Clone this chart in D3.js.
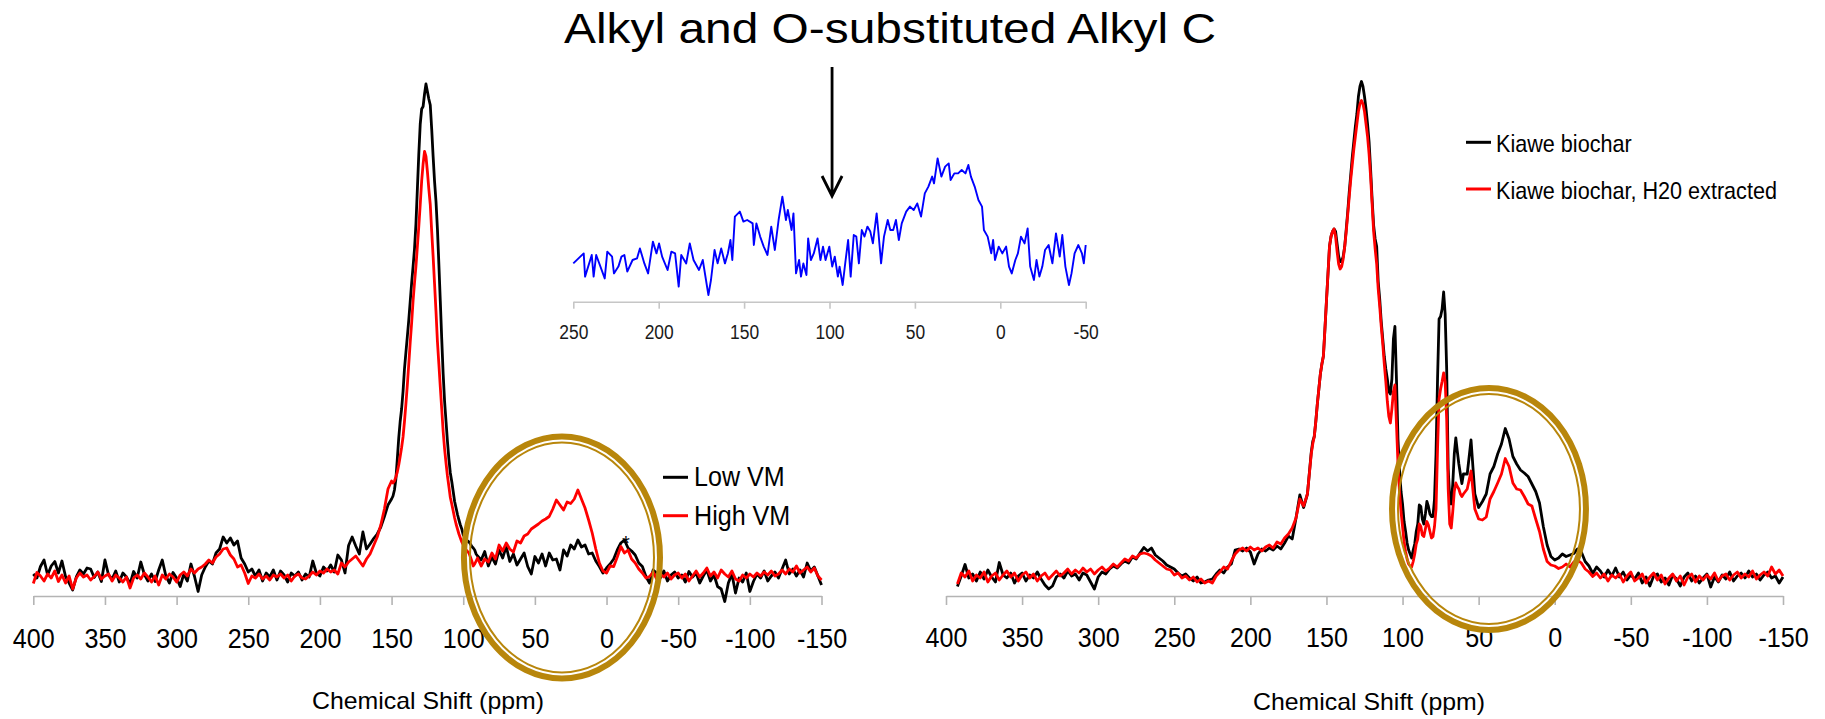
<!DOCTYPE html>
<html>
<head>
<meta charset="utf-8">
<script src="https://cdn.jsdelivr.net/npm/d3@7"></script>
<style>
  html, body { margin: 0; padding: 0; background: #ffffff; }
  svg { display: block; font-family: "Liberation Sans", Arial, Helvetica, sans-serif; }
</style>
</head>
<body>
<svg id="chart" width="1825" height="719"></svg>
<script>
// ---------- 13C NMR spectra: chemical shift grids (ppm) ----------
const leftPpm  = [...d3.range(400, 151, -2.5), ...d3.range(150, 90.5, -1), ...d3.range(90, -150.01, -2.5)];
const rightPpm = [...d3.range(392.5, 161, -2.5), ...d3.range(160, 59.5, -1), ...d3.range(57.5, -150.01, -2.5)];

// Left panel: low vs high volatile matter biochar (relative intensity)
const lowVM = [
  1.0,0.2,2.5,3.8,0.8,2.6,3.5,1.2,3.6,0.5,
  -0.8,-2.2,0.4,1.8,1.0,2.2,2.0,0.3,1.4,-0.5,
  3.8,0.8,0.0,1.6,-0.6,1.2,0.4,-1.0,1.5,0.2,
  3.4,0.9,-0.4,1.0,-0.5,1.8,3.8,0.6,-0.8,1.3,
  0.2,-1.5,1.0,-0.4,3.0,0.5,-2.5,0.8,2.4,3.6,
  3.0,5.2,6.0,8.4,7.2,8.2,6.8,7.6,4.2,3.0,
  1.4,2.0,0.6,1.8,-0.4,1.2,0.4,1.8,-0.2,1.6,
  0.8,-0.6,1.2,0.6,1.4,-0.2,1.0,0.4,3.6,1.2,
  0.6,2.4,1.6,2.8,1.4,4.8,3.8,1.2,6.7,8.4,
  6.6,5.0,9.4,6.0,7.0,8.1,9.0,10.4,12.5,14.8,
  16.0,16.6,17.8,20.0,24.0,28.2,31.5,34.0,37.5,42.0,
  45.3,48.5,51.8,55.5,59.2,62.5,66.0,71.0,78.0,85.0,
  91.0,94.0,94.5,97.0,99.0,97.5,96.0,94.8,90.0,84.5,
  79.5,75.5,70.0,63.0,55.6,48.0,41.0,35.5,31.5,27.5,
  24.0,21.2,19.5,17.5,15.5,14.2,12.9,11.8,10.8,10.0,
  8.8,8.4,7.8,7.6,7.4,7.0,6.5,6.2,5.8,5.0,
  4.6,3.8,5.5,2.6,4.4,3.0,5.8,4.2,6.5,3.5,
  5.0,2.8,4.0,5.2,2.5,1.0,4.5,3.2,5.0,2.6,
  5.2,3.8,4.0,1.8,5.8,4.6,6.8,6.0,7.8,6.4,
  6.8,5.0,5.2,3.6,2.5,1.2,2.2,3.0,4.0,5.8,
  7.2,7.8,6.2,5.6,4.8,3.2,2.5,0.5,-0.8,1.8,
  1.2,0.2,1.6,-0.4,0.8,1.4,0.2,
  0.8,-0.6,1.5,0.4,1.2,-0.8,0.6,1.8,-0.4,0.8,
  -1.5,-2.0,-4.5,-0.8,1.0,-2.8,0.2,-0.6,1.2,-2.5,
  -0.5,1.0,0.2,1.6,-0.4,0.6,1.4,0.2,2.0,3.8,
  1.0,2.0,0.6,1.8,0.4,3.2,1.6,2.4,0.6,-1.2
];
const highVM = [
  -0.9,1.3,0.6,-0.4,1.0,0.2,1.6,-0.5,0.8,-0.8,
  0.6,-2.0,0.2,1.2,0.4,0.8,-0.2,0.5,1.4,0.0,
  0.6,1.0,-0.4,0.8,0.2,-0.6,0.4,-1.8,0.2,0.8,
  0.0,1.2,0.4,-0.6,0.6,-1.2,0.8,0.0,1.0,0.4,
  -0.6,0.8,1.4,0.6,2.0,1.2,2.0,2.4,3.0,3.8,
  3.2,4.4,5.0,6.0,6.2,4.8,4.0,2.4,2.8,1.2,
  -0.9,0.6,0.2,1.0,0.0,0.6,-0.2,0.8,0.4,1.0,
  0.2,0.8,-0.4,0.6,1.0,0.2,0.0,0.6,1.4,0.8,
  1.6,1.2,2.0,1.4,1.8,1.0,3.2,2.4,3.4,4.0,
  4.6,3.6,2.6,4.0,5.0,6.7,8.4,10.8,14.0,18.0,
  19.6,19.2,19.6,20.4,21.4,22.8,24.5,26.3,28.4,31.5,
  35.0,38.8,43.0,47.3,51.2,55.6,59.2,62.5,66.5,70.5,
  74.9,79.6,83.0,85.5,84.5,81.5,78.0,74.9,69.5,64.5,
  59.0,53.5,47.5,43.0,38.4,34.0,29.5,26.0,23.2,20.6,
  18.5,16.3,15.0,13.6,12.2,11.0,10.0,9.0,8.2,7.4,
  6.8,6.2,5.8,5.5,5.2,4.4,3.6,2.6,3.0,3.6,
  4.2,2.6,4.0,3.4,5.2,4.0,6.8,5.6,7.2,6.0,
  5.4,7.6,7.2,8.6,9.0,10.0,10.5,11.0,11.6,12.0,
  12.5,14.0,15.8,14.8,13.8,15.4,15.1,16.0,17.8,16.0,
  14.2,11.8,9.2,6.0,3.2,1.6,1.2,2.6,2.5,4.4,
  6.5,5.2,5.8,4.0,3.2,2.0,1.2,0.2,0.5,1.4,
  0.0,1.0,0.4,1.2,0.0,0.8,1.2,
  0.2,1.0,-0.4,0.6,1.6,0.4,1.2,2.2,0.6,1.4,
  0.2,1.8,1.0,0.4,1.6,0.0,-0.4,0.8,0.2,1.0,
  0.4,1.2,0.6,1.4,0.8,1.6,0.6,1.0,1.8,1.0,
  2.0,1.4,2.6,1.2,1.8,2.4,1.4,2.2,0.6,-0.2
];

// Right panel: Kiawe biochar before and after water extraction
const kiawe = [
  -1.5,0.6,2.9,0.2,1.0,-0.4,1.4,0.0,1.8,0.4,
  -0.6,3.3,0.8,0.2,1.2,-0.8,0.6,1.2,-0.4,0.8,
  0.2,1.4,0.0,-1.2,-2.0,-1.4,0.4,1.0,0.2,1.6,
  0.6,1.0,-0.2,1.2,0.8,-0.6,-2.0,0.4,1.4,1.0,
  2.0,2.6,2.2,3.0,3.6,3.2,4.4,4.0,5.2,6.3,
  5.6,6.2,4.8,4.2,3.6,2.8,2.4,2.0,1.2,0.6,
  1.0,0.2,-0.4,0.4,-0.8,-0.6,-0.2,0.0,1.0,1.8,
  1.2,2.4,3.0,5.8,6.0,5.6,6.2,5.4,3.0,5.0,
  6.0,5.6,6.2,5.8,6.6,6.0,7.2,8.6,8.0,12.2,
  16.8,14.3,17.0,
  25.3,27.5,28.5,31.5,35.0,38.0,41.0,43.0,44.6,50.0,
  55.6,61.0,66.5,68.5,69.5,70.0,69.5,67.0,64.5,63.5,
  63.5,64.5,66.5,70.0,73.5,77.5,81.0,84.5,87.5,90.5,
  93.0,96.5,98.5,99.5,98.5,96.5,94.0,91.0,87.5,82.0,
  76.0,70.7,68.0,66.5,59.5,56.0,51.5,48.0,44.5,42.0,
  40.0,37.5,37.0,40.0,48.0,50.5,40.0,28.0,22.0,17.5,
  15.0,11.5,9.5,7.2,5.8,5.0,4.2,5.8,7.0,9.5,
  11.0,14.8,14.5,12.0,11.0,13.0,15.5,14.5,13.0,12.5,
  12.5,16.0,25.0,40.0,52.0,52.5,54.0,57.4,53.0,42.0,
  22.0,16.0,15.0,19.0,25.0,28.2,25.5,23.0,21.0,19.1,
  21.0,
  21.0,27.8,17.0,14.3,15.5,17.0,21.0,22.5,25.0,27.0,
  30.1,28.0,24.5,23.0,21.8,21.2,20.5,19.0,17.5,15.2,
  10.5,6.8,4.5,3.8,4.2,5.0,4.5,4.8,5.1,6.0,
  5.4,3.5,2.6,1.1,2.4,1.6,0.4,1.8,0.6,2.2,
  0.4,1.4,-0.2,0.8,0.0,1.2,-0.8,0.4,-1.4,0.6,
  1.0,-0.6,0.2,-1.2,0.8,0.0,-1.4,0.4,1.2,-0.4,
  0.6,-0.8,0.2,1.0,-1.6,0.4,-0.6,0.8,0.0,1.4,
  -0.4,0.6,1.2,0.2,1.6,0.4,1.0,-0.2,0.8,1.4,
  0.2,0.6,-0.8,0.4
];
const kiaweH2O = [
  -1.0,1.2,0.4,1.6,-0.4,0.8,0.2,1.4,-0.6,0.6,
  1.2,-0.2,0.8,1.6,0.4,1.2,-0.4,0.8,1.4,0.2,
  1.0,-0.4,0.6,1.2,0.0,0.8,1.6,0.6,1.2,2.0,
  1.0,1.8,1.2,2.2,1.4,2.0,1.0,1.8,2.4,1.6,
  2.2,3.0,2.4,3.2,4.0,3.6,4.6,4.2,5.0,5.2,
  5.0,4.6,3.8,3.2,2.6,2.0,1.8,0.8,1.2,0.2,
  0.6,-0.2,0.4,-0.6,0.0,-0.8,-0.4,-0.8,0.6,1.4,
  2.4,2.0,3.6,5.0,5.8,6.2,5.6,6.4,5.8,6.2,
  5.6,6.4,6.8,6.2,7.4,7.0,8.2,9.0,10.2,12.2,
  16.0,14.6,17.0,
  25.0,27.0,28.5,31.5,35.0,38.0,41.0,43.0,44.6,50.0,
  55.6,61.0,66.5,68.5,69.5,70.0,68.5,65.5,63.0,62.0,
  62.5,64.0,66.5,69.5,73.0,76.5,80.0,83.0,86.0,88.5,
  91.0,93.5,95.0,95.7,95.0,93.5,91.0,88.5,85.0,80.5,
  75.0,69.5,66.0,63.0,58.0,54.5,50.5,47.0,43.0,39.5,
  35.5,32.5,31.2,34.0,37.5,38.8,31.0,23.0,17.5,13.5,
  10.5,7.5,5.5,4.0,3.0,2.6,2.4,3.5,5.0,7.0,
  8.0,11.0,10.5,8.8,8.5,10.0,11.5,10.8,9.5,8.2,
  8.5,10.5,14.0,26.0,36.0,38.0,39.5,41.2,39.5,32.0,
  18.0,11.0,10.2,13.5,17.5,19.2,18.5,18.0,17.0,16.5,
  17.0,
  18.0,21.6,14.0,12.0,11.8,12.4,16.0,17.5,19.2,21.0,
  24.1,22.5,19.2,18.0,17.8,16.5,15.0,14.6,12.0,9.5,
  6.0,3.5,2.8,2.6,2.1,2.4,3.0,2.4,3.4,3.8,
  3.2,2.0,1.4,0.5,1.2,0.2,1.0,-0.4,0.8,0.2,
  1.0,-0.6,0.6,1.4,-0.4,0.2,1.0,-0.8,0.4,1.2,
  -0.2,0.8,-1.0,0.2,1.0,-0.4,0.6,-1.2,0.4,1.0,
  -0.6,0.6,-0.2,0.8,0.0,1.2,-0.4,0.6,1.0,-0.2,
  0.8,1.4,0.2,1.0,0.4,1.6,0.0,0.8,1.4,0.6,
  2.4,1.0,1.8,0.6
];

// Inset: expanded alkyl / O-alkyl region
const insetPpm = [
  250,243.9,243.1,239.2,238.1,236.6,231.6,230.1,227.3,226.2,
  223.6,221.8,220.1,218.4,215.3,212.7,211.0,208.4,206.2,203.4,
  201.3,199.8,198.0,194.8,192.6,190.4,188.3,186.8,183.9,181.8,
  179.6,176.4,174.2,170.9,169.4,167.3,165.5,163.4,161.2,159.5,
  158.0,156.9,155.4,152.5,150.4,148.2,145.0,144.3,142.8,140.6,
  138.5,136.3,134.1,132.0,129.8,127.6,125.5,124.4,122.2,121.1,
  119.6,117.8,116.7,115.3,113.5,112.5,110.9,109.2,107.0,105.3,
  103.8,102.3,100.1,98.4,96.9,95.1,94.1,92.3,90.8,89.1,
  87.6,85.8,84.3,82.8,81.1,79.5,77.8,76.1,74.6,72.4,
  71.3,69.8,68.1,65.9,64.4,62.7,61.1,59.4,57.7,55.1,
  52.9,50.7,48.6,46.4,44.2,42.1,39.9,38.8,36.7,34.5,
  32.3,30.2,29.1,26.9,24.7,22.6,20.4,18.7,17.2,15.0,
  12.8,10.7,9.6,7.4,5.3,4.2,3.1,0.9,-1.2,-3.4,
  -5.1,-6.7,-8.8,-10.3,-12.1,-14.2,-16.0,-17.5,-19.7,-21.2,
  -22.9,-24.6,-26.2,-28.3,-30.5,-32.6,-34.8,-36.3,-38.1,-40.2,
  -41.7,-43.5,-45.7,-47.8,-48.9,-50.0
];
const insetVal = [
  3.3,8.3,-3.3,7.5,-3.3,7.5,-4.2,9.2,6.7,-1.7,
  1.7,6.7,7.5,-0.8,5,5.8,10.8,3.3,-1.7,14.2,
  8.3,13.3,6.7,0,9.2,8.3,-8.3,7.5,3.3,13.3,
  5,0,5,-12.5,-5,10,3.3,10.8,3.3,8.3,
  15,5,26.7,29.2,24.2,25,23.3,12.5,23.3,16.7,
  11.7,7.5,21.7,10,25,36.7,25,30,20,28.3,
  -1.7,5,-3.3,3.3,-2.5,15.8,5,8.3,15.8,5,
  11.7,5,11.7,1.7,6.7,-3.3,1.7,-7.5,3.3,15,
  -3.3,17.5,16.7,3.3,20,16.7,21.7,19.2,13.3,28.3,
  18.3,3.3,16.7,25,20,20,25,15,23.3,29.2,
  31.7,30,33.3,26.7,38.3,41.7,46.7,43.3,55.8,46.7,
  51.7,53.3,45,48.3,48.3,50,48.3,52.5,46.7,41.7,
  35,31.7,20,16.7,8.3,15,5,11.7,8.3,11.7,
  1.7,-1.7,5,8.3,16.7,13.3,20.8,1.7,-5,5,
  -3.3,1.7,10,12.5,3.3,18.3,6.7,17.5,1.7,-7.5,
  -1.7,8.3,12.5,8.3,3.3,12.5
];

// Axis ticks
const mainTicks  = [400, 350, 300, 250, 200, 150, 100, 50, 0, -50, -100, -150];
const insetTicks = [250, 200, 150, 100, 50, 0, -50];

// Legend labels and text
const leftLegend  = ["Low VM", "High VM"];
const rightLegend = ["Kiawe biochar", "Kiawe biochar, H20 extracted"];
const titleText = "Alkyl and O-substituted Alkyl C";
const axisTitle = "Chemical Shift (ppm)";

// Highlighted regions: [centre ppm, centre intensity, half-width ppm, half-height intensity]
const leftHighlight  = [31.1, 4.3, 70.5, 24.8];
const rightHighlight = [43.2, 14.0, 65.7, 24.8];

[[leftPpm, lowVM], [leftPpm, highVM], [rightPpm, kiawe], [rightPpm, kiaweH2O], [insetPpm, insetVal]]
  .forEach(([a, b], i) => { if (a.length !== b.length) throw new Error("series " + i + ": " + a.length + " vs " + b.length); });

// ---------- scales ----------
const svg = d3.select("#chart");
const xL = d3.scaleLinear().domain([400, -150]).range([33.3, 821.5]);
const xR = d3.scaleLinear().domain([400, -150]).range([946, 1783]);
const yS = d3.scaleLinear().domain([-3.4, 100]).range([596, 79]);
const xI = d3.scaleLinear().domain([250, -50]).range([573.3, 1085.7]);
const yI = d3.scaleLinear().domain([0, 60]).range([270, 150]);

const plain = d => String(d);

function drawAxis(x, yPos, ticks, opts) {
  const g = svg.append("g")
    .attr("transform", `translate(0,${yPos})`)
    .call(d3.axisBottom(x).tickValues(ticks).tickFormat(plain)
      .tickSize(opts.tick).tickSizeOuter(0).tickPadding(opts.pad));
  g.select(".domain").attr("stroke", opts.color).attr("stroke-width", 1.6);
  g.selectAll(".tick line").attr("stroke", opts.color).attr("stroke-width", 1.6);
  g.selectAll(".tick text")
    .attr("font-size", opts.font)
    .attr("font-family", "Liberation Sans, Arial, sans-serif")
    .attr("fill", opts.text)
    .attr("transform", `scale(${opts.sx},1)`);
  return g;
}

function drawSpectrum(x, y, ppm, vals, color, width) {
  const line = d3.line().x((d, i) => x(ppm[i])).y(d => y(d));
  svg.append("path").datum(vals)
    .attr("d", line)
    .attr("fill", "none")
    .attr("stroke", color)
    .attr("stroke-width", width)
    .attr("stroke-linejoin", "round");
}

// ---------- axes ----------
drawAxis(xL, yS(-3.4), mainTicks, { tick: 9, pad: 23.5, font: 27, color: "#b4b4b4", text: "#000", sx: 0.93 });
drawAxis(xR, yS(-3.4), mainTicks, { tick: 9, pad: 22.5, font: 27, color: "#b4b4b4", text: "#000", sx: 0.93 });
drawAxis(xI, 301.7, insetTicks, { tick: 7, pad: 15.7, font: 21, color: "#c6c6c6", text: "#1a1a1a", sx: 0.83 });

// ---------- spectra ----------
drawSpectrum(xL, yS, leftPpm, lowVM, "#000000", 2.8);
drawSpectrum(xL, yS, leftPpm, highVM, "#ff0000", 2.8);
drawSpectrum(xR, yS, rightPpm, kiawe, "#000000", 2.8);
drawSpectrum(xR, yS, rightPpm, kiaweH2O, "#ff0000", 2.8);
drawSpectrum(xI, yI, insetPpm, insetVal, "#0000ff", 1.9);

// peak marker on the low-VM trace
svg.append("text")
  .attr("x", xL(-13.5)).attr("y", yS(8.1) + 11)
  .attr("text-anchor", "middle").attr("font-size", 20).attr("fill", "#000")
  .text("*");

// ---------- highlight ellipses (double line) ----------
function drawHighlight(x, h) {
  const cx = x(h[0]), cy = yS(h[1]);
  const rx = Math.abs(x(h[0] + h[2]) - cx), ry = Math.abs(yS(h[1] + h[3]) - cy);
  const g = svg.append("g").attr("fill", "none").attr("stroke", "#b8860b");
  g.append("ellipse").attr("cx", cx).attr("cy", cy).attr("rx", rx - 3).attr("ry", ry - 3).attr("stroke-width", 6);
  g.append("ellipse").attr("cx", cx).attr("cy", cy).attr("rx", rx - 9).attr("ry", ry - 9).attr("stroke-width", 2);
}
drawHighlight(xL, leftHighlight);
drawHighlight(xR, rightHighlight);

// ---------- title and arrow ----------
svg.append("text")
  .attr("x", 890).attr("y", 43)
  .attr("text-anchor", "middle").attr("font-size", 42).attr("fill", "#000")
  .attr("textLength", 652).attr("lengthAdjust", "spacingAndGlyphs")
  .text(titleText);

const ax = xI(98.5);
svg.append("path")
  .attr("d", `M${ax},67 V196 M${ax - 10},176 L${ax},196 L${ax + 10},176`)
  .attr("fill", "none").attr("stroke", "#000").attr("stroke-width", 2.8);

// ---------- axis titles ----------
[[428, 709], [1369, 710]].forEach(([cx, by]) => {
  svg.append("text")
    .attr("x", cx).attr("y", by)
    .attr("text-anchor", "middle").attr("font-size", 24).attr("fill", "#000")
    .attr("textLength", 232).attr("lengthAdjust", "spacingAndGlyphs")
    .text(axisTitle);
});

// ---------- legends ----------
const leftColors = ["#000000", "#ff0000"];
leftLegend.forEach((lab, i) => {
  const ly = [477.3, 515.7][i], by = [486, 525][i];
  svg.append("line").attr("x1", 663).attr("x2", 688).attr("y1", ly).attr("y2", ly)
    .attr("stroke", leftColors[i]).attr("stroke-width", 3);
  svg.append("text").attr("transform", `translate(694,${by}) scale(0.93,1)`)
    .attr("font-size", 27).attr("fill", "#000").text(lab);
});
rightLegend.forEach((lab, i) => {
  const ly = [142.3, 189][i], by = [152, 199][i];
  svg.append("line").attr("x1", 1466).attr("x2", 1491).attr("y1", ly).attr("y2", ly)
    .attr("stroke", leftColors[i]).attr("stroke-width", 3);
  svg.append("text").attr("transform", `translate(1496,${by}) scale(0.9,1)`)
    .attr("font-size", 24).attr("fill", "#000").text(lab);
});
</script>
</body>
</html>
